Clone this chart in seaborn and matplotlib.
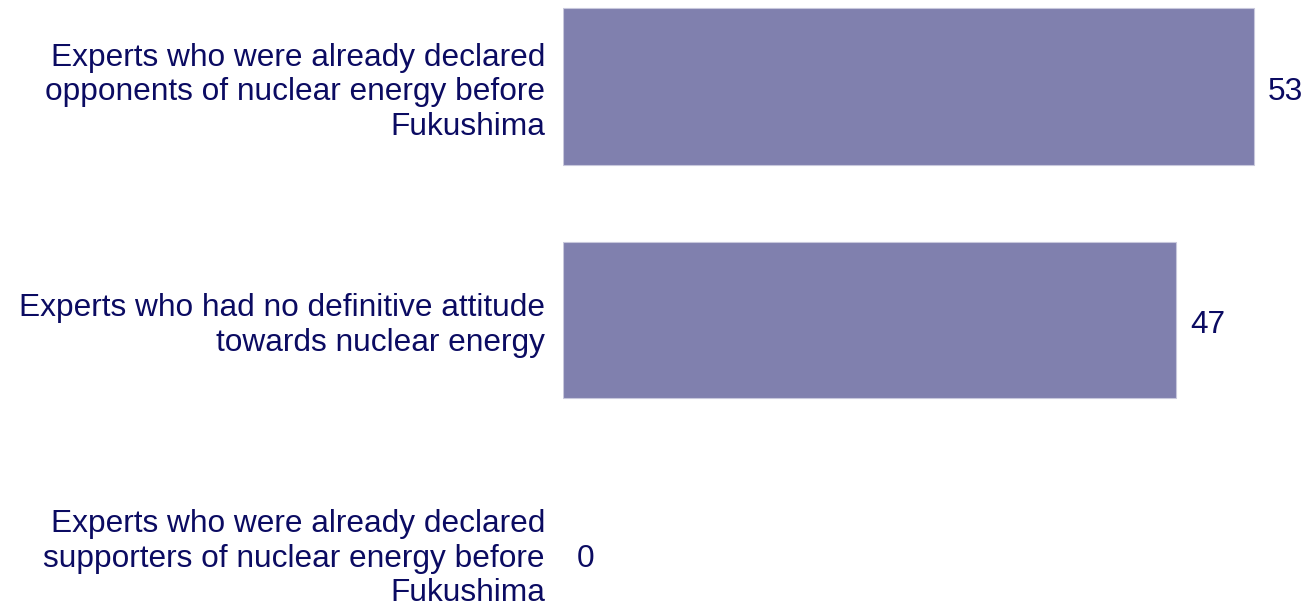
import matplotlib
matplotlib.use("Agg")
import matplotlib.pyplot as plt
import seaborn as sns
import pandas as pd

categories = [
    "Experts who were already declared\nopponents of nuclear energy before\nFukushima",
    "Experts who had no definitive attitude\ntowards nuclear energy",
    "Experts who were already declared\nsupporters of nuclear energy before\nFukushima",
]
values = [53, 47, 0]

sns.set_theme(style="white")
plt.rcParams['font.family'] = ['Liberation Sans', 'DejaVu Sans']

text_color = "#0b0b62"
bar_color = "#8080ae"

df = pd.DataFrame({"category": categories, "value": values})

fig = plt.figure(figsize=(13.09, 6.09), dpi=100)
ax = fig.add_axes([563/1309, 0, (1309-563)/1309, 1])
sns.barplot(data=df, x="value", y="category", orient="h", color=bar_color,
            width=0.67, ax=ax, saturation=1, edgecolor="#c8c8dc", linewidth=0.8)
for p in ax.patches:
    if p.get_width() == 0:
        p.set_linewidth(0)

ax.set_xlim(0, 57.2)
ax.set_ylim(2.24, -0.37)
for s in ax.spines.values():
    s.set_visible(False)
ax.set_xticks([])
ax.set_xlabel("")
ax.set_ylabel("")
ax.tick_params(axis="y", length=0, pad=13, labelsize=22.8, labelcolor=text_color)
for lab in ax.get_yticklabels():
    lab.set_horizontalalignment("right")
    lab.set_linespacing(1.2)

for i, v in enumerate(values):
    ax.annotate(f"{v}", xy=(v, i), xytext=(10, -4), textcoords="offset points",
                va="center", ha="left", fontsize=22.8, color=text_color)

fig.savefig("out.png", dpi=100)
